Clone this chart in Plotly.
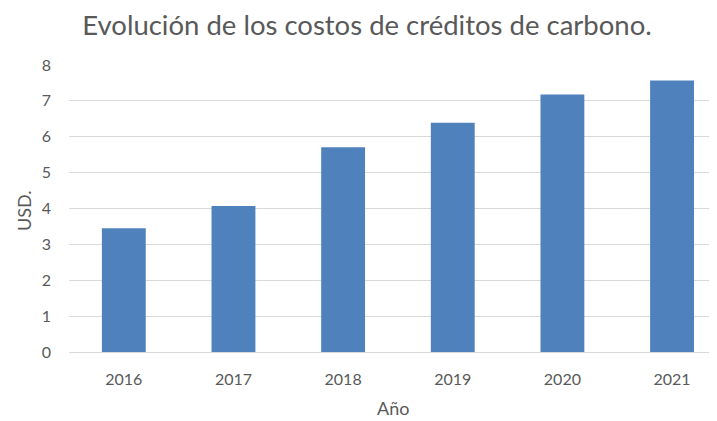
import plotly.graph_objects as go

years = ["2016", "2017", "2018", "2019", "2020", "2021"]
costs = [3.45, 4.07, 5.71, 6.39, 7.18, 7.57]
y_ticks = [0, 1, 2, 3, 4, 5, 6, 7, 8]

FONT = "Lato, Carlito, Calibri, sans-serif"
GRAY = "#595959"
# the page body has an 8px margin, so the figure is drawn offset by 8px
OFF = 8
W, H = 717 - OFF, 421 - OFF
L, T = 69 - OFF, 65 - OFF
B = H - (352 - OFF)
PW, PH = W - L, H - T - B

fig = go.Figure(
    go.Bar(
        x=years,
        y=costs,
        marker=dict(color="#4F81BD", line=dict(width=0)),
        width=0.4,
    )
)

fig.update_layout(
    width=W,
    height=H,
    paper_bgcolor="white",
    plot_bgcolor="white",
    margin=dict(l=L, r=0, t=T, b=B, autoexpand=False),
    showlegend=False,
    font=dict(family=FONT, color=GRAY),
    title=dict(
        text="Evolución de los costos de créditos de carbono.",
        x=(367 - OFF) / W,
        xanchor="center",
        y=1 - (25 - OFF) / H,
        yanchor="middle",
        font=dict(size=27.5, family=FONT, color=GRAY),
    ),
    annotations=[
        dict(
            text="Año", xref="paper", yref="paper",
            x=(393 - 69) / PW, y=-(408 - 352) / PH,
            xanchor="center", yanchor="middle", showarrow=False,
            font=dict(size=18, color=GRAY, family=FONT),
        ),
        dict(
            text="USD.", xref="paper", yref="paper",
            x=-(69 - 24) / PW, y=(352 - 211) / PH,
            xanchor="center", yanchor="middle", showarrow=False, textangle=-90,
            font=dict(size=18, color=GRAY, family=FONT),
        ),
    ],
)

fig.update_xaxes(
    type="category",
    range=[-0.5, 5.41],
    automargin=False,
    showgrid=False,
    showline=False,
    zeroline=False,
    ticks="",
    ticklabelstandoff=16,
    tickfont=dict(size=16, color=GRAY),
)

fig.update_yaxes(
    range=[0, 8],
    tickvals=y_ticks,
    automargin=False,
    showgrid=True,
    gridcolor="#D9D9D9",
    gridwidth=1,
    zeroline=True,
    zerolinecolor="#D9D9D9",
    zerolinewidth=1,
    showline=False,
    ticks="",
    ticklabelstandoff=17,
    tickfont=dict(size=16, color=GRAY),
)

fig.write_html("out.html")
